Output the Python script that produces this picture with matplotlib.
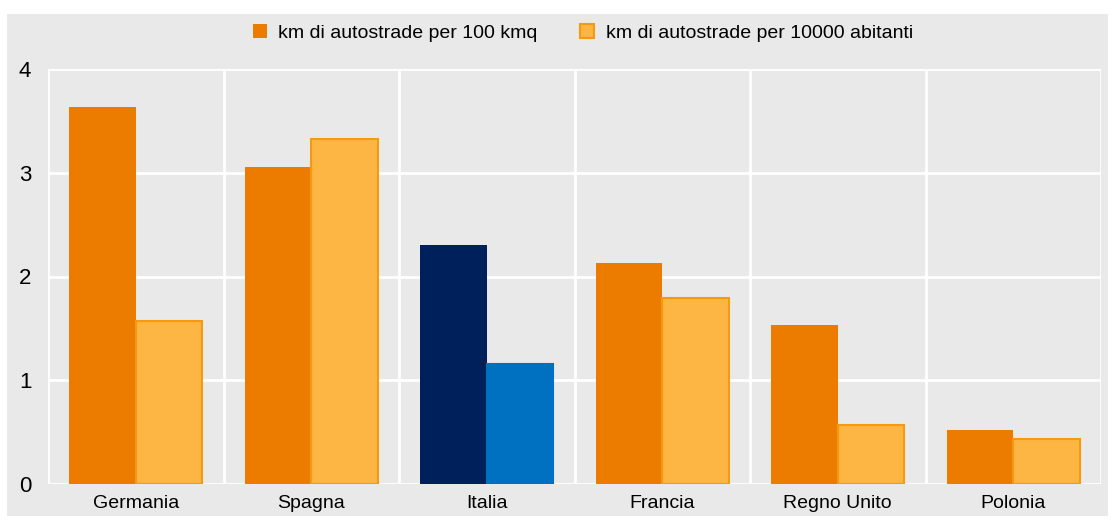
import matplotlib.pyplot as plt
import matplotlib.patches as mpatches
import numpy as np
from matplotlib import font_manager

paesi = ['Germania', 'Spagna', 'Italia', 'Francia', 'Regno Unito', 'Polonia']
km_per_100kmq = [3.63, 3.06, 2.30, 2.13, 1.53, 0.52]
km_per_10000ab = [1.57, 3.33, 1.16, 1.79, 0.57, 0.43]
label_1 = 'km di autostrade per 100 kmq'
label_2 = 'km di autostrade per 10000 abitanti'

names = {f.name for f in font_manager.fontManager.ttflist}
fam = 'Liberation Sans Narrow' if 'Liberation Sans Narrow' in names else 'Liberation Sans'
plt.rcParams['font.family'] = [fam, 'DejaVu Sans']

grey = '#e9e9e9'
col1 = ['#ec7c00'] * len(paesi)
col2 = ['#fdb543'] * len(paesi)
edge2 = ['#f59a10'] * len(paesi)
# Italia highlighted in blue
col1[2] = '#00205b'
col2[2] = '#0070c0'
edge2[2] = '#0070c0'

fig = plt.figure(figsize=(11.15, 5.25), dpi=100)
fig.patches.append(mpatches.Rectangle((7 / 1115, 9 / 525), 1101 / 1115, 502 / 525,
                                      transform=fig.transFigure, facecolor=grey,
                                      edgecolor='none', zorder=-10))
ax = fig.add_axes([48 / 1115, 41 / 525, 1053 / 1115, 415 / 525])
ax.set_facecolor(grey)

x = np.arange(len(paesi))
w = 0.38
ax.bar(x - w / 2, km_per_100kmq, w, color=col1, zorder=3)
ax.bar(x + w / 2, km_per_10000ab, w, color=col2, edgecolor=edge2, linewidth=1.5, zorder=3)

ax.set_xlim(-0.5, len(paesi) - 0.5)
ax.set_ylim(0, 4)
ax.set_yticks([0, 1, 2, 3, 4])
ax.set_xticks(x)
ax.set_xticklabels(paesi)
ax.set_xticks(np.arange(-0.5, len(paesi), 1), minor=True)
ax.grid(True, which='minor', axis='x', color='white', linewidth=2, zorder=1)
ax.grid(True, which='major', axis='y', color='white', linewidth=2, zorder=1)
ax.tick_params(which='both', length=0)
ax.tick_params(axis='x', labelsize=14, pad=8)
ax.tick_params(axis='y', labelsize=16, pad=12)
for s in ax.spines.values():
    s.set_visible(False)

h1 = mpatches.Patch(facecolor='#ec7c00', label=label_1)
h2 = mpatches.Patch(facecolor='#fdb543', edgecolor='#f59a10', linewidth=1.5, label=label_2)
fig.legend(handles=[h1, h2], loc='center', bbox_to_anchor=(583 / 1115, 1 - 33 / 525),
           ncol=2, frameon=False, fontsize=14, handlelength=0.7, handleheight=0.7,
           columnspacing=2.2, handletextpad=0.6)

fig.savefig('out.png', dpi=100, facecolor='white')
